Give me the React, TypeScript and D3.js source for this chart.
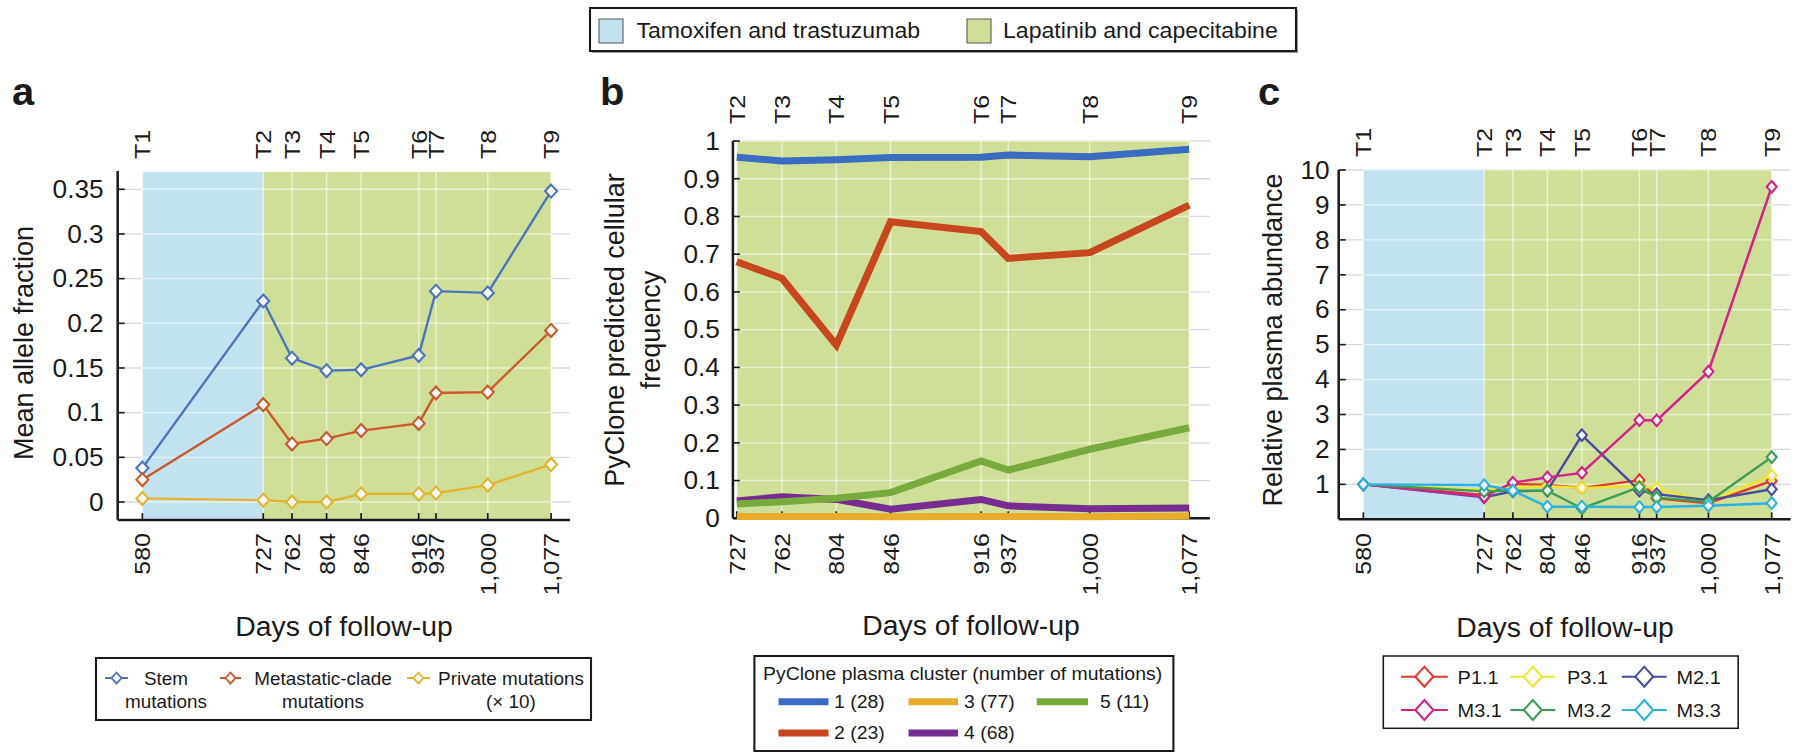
import React from "react";
import * as d3 from "d3";

// Drawing is laid out in page pixels vertically; horizontal positions are
// divided by SX because the figure is drawn slightly widened.
const SX = 1.05;
const WIDTH = 1793;
const HEIGHT = 753;
const VIEW_W = WIDTH / SX;
const h = (v: number) => v / SX;

const FONT = "'Liberation Sans', Arial, Helvetica, sans-serif";
const TICK_FS = 25;
const LABEL_FS = 27;
const INK = "#1a1a1a";
// rotated tick text is drawn a little narrower across its glyph height
const ROT_SQUEEZE = 0.86;

// ---- shared time axis ----
const timepoints = ["T1", "T2", "T3", "T4", "T5", "T6", "T7", "T8", "T9"];
const followUpDays = [580, 727, 762, 804, 846, 916, 937, 1000, 1077];

// ---- panel a: mean allele fraction ----
const stemMutations = [0.038, 0.225, 0.161, 0.147, 0.148, 0.164, 0.236, 0.234, 0.348];
const metastaticClade = [0.025, 0.109, 0.065, 0.071, 0.08, 0.088, 0.122, 0.123, 0.192];
const privateMutationsX10 = [0.004, 0.002, 0.0, 0.0, 0.009, 0.009, 0.01, 0.019, 0.042];
const alleleTicks = [0, 0.05, 0.1, 0.15, 0.2, 0.25, 0.3, 0.35];
const alleleTickLabels = ["0", "0.05", "0.1", "0.15", "0.2", "0.25", "0.3", "0.35"];

// ---- panel b: PyClone cellular frequency ----
const pycloneTimepoints = ["T2", "T3", "T4", "T5", "T6", "T7", "T8", "T9"];
const pycloneDays = [727, 762, 804, 846, 916, 937, 1000, 1077];
const cluster1 = [0.957, 0.947, 0.95, 0.956, 0.957, 0.963, 0.958, 0.978];
const cluster2 = [0.68, 0.636, 0.459, 0.786, 0.76, 0.689, 0.704, 0.83];
const cluster3 = [0.005, 0.005, 0.005, 0.004, 0.005, 0.005, 0.004, 0.006];
const cluster4 = [0.046, 0.057, 0.05, 0.024, 0.05, 0.033, 0.025, 0.027];
const cluster5 = [0.038, 0.044, 0.053, 0.068, 0.152, 0.128, 0.183, 0.24];
const clusterLabels = ["1 (28)", "2 (23)", "3 (77)", "4 (68)", "5 (11)"];
const cellularTicks = [0, 0.1, 0.2, 0.3, 0.4, 0.5, 0.6, 0.7, 0.8, 0.9, 1];
const cellularTickLabels = ["0", "0.1", "0.2", "0.3", "0.4", "0.5", "0.6", "0.7", "0.8", "0.9", "1"];

// ---- panel c: relative plasma abundance ----
const plasmaNames = ["P1.1", "P3.1", "M2.1", "M3.1", "M3.2", "M3.3"];
const plasmaP11 = [1, 0.7, 1.02, 0.98, 0.9, 1.12, 0.6, 0.46, 1.1];
const plasmaP31 = [1, 0.85, 0.9, 0.95, 0.9, 0.95, 0.88, 0.5, 1.25];
const plasmaM21 = [1, 0.63, 0.8, 0.82, 2.41, 0.82, 0.72, 0.55, 0.86];
const plasmaM31 = [1, 0.65, 1.05, 1.2, 1.33, 2.84, 2.83, 4.23, 9.52];
const plasmaM32 = [1, 0.8, 0.82, 0.82, 0.31, 0.92, 0.62, 0.5, 1.78];
const plasmaM33 = [1, 0.98, 0.82, 0.36, 0.36, 0.35, 0.35, 0.39, 0.46];
const abundanceTicks = [1, 2, 3, 4, 5, 6, 7, 8, 9, 10];

// ---- treatments ----
const treatments = ["Tamoxifen and trastuzumab", "Lapatinib and capecitabine"];
const treatmentSpans = [
  [580, 727],
  [727, 1077],
];

// ---- palette ----
const BG_BLUE = "#c3e2ef";
const BG_GREEN = "#d0df98";
const mutationColors = ["#4a74bb", "#cb582b", "#e2b42c"];
const clusterColors = ["#3a6cc1", "#c8461e", "#e8ac2c", "#762c91", "#79aa3e"];
const plasmaColors = ["#e6352b", "#eee52c", "#474c9c", "#d2228a", "#3b9e55", "#2bb2e4"];

const fmtDay = d3.format(",");

function diamond(cx: number, cy: number, w: number, hh: number) {
  return `M${cx},${cy - hh}L${cx + w},${cy}L${cx},${cy + hh}L${cx - w},${cy}Z`;
}

type Lin = d3.ScaleLinear<number, number>;

function Frame(props: {
  x: Lin;
  y: Lin;
  xTicks: number[];
  yTicks: number[];
  yLabels: string[];
  axisTop: number;
  axisBottom: number;
  bgTop: number;
  spans: { from: number; to: number; fill: string }[];
  gap: number;
  topLabels: string[];
  topBase: number;
}) {
  const { x, y, xTicks, yTicks, yLabels, axisTop, axisBottom, bgTop, spans, gap, topLabels, topBase } = props;
  const [left, right] = x.range();
  const bgLeft = d3.min(spans, (s) => x(s.from)) as number;
  const bgRight = d3.max(spans, (s) => x(s.to)) as number;
  const tick = 7;
  return (
    <g>
      {yTicks.map((t) => (
        <line key={"gg" + t} x1={left} x2={right} y1={y(t)} y2={y(t)} stroke="#d5d8df" strokeWidth={1.3} />
      ))}
      {spans.map((s, i) => (
        <rect key={"bg" + i} x={x(s.from)} width={x(s.to) - x(s.from)} y={bgTop} height={axisBottom - bgTop} fill={s.fill} />
      ))}
      {yTicks.map((t) => (
        <line key={"wg" + t} x1={bgLeft} x2={bgRight} y1={y(t)} y2={y(t)} stroke="#ffffff" strokeOpacity={0.55} strokeWidth={1.4} />
      ))}
      {xTicks.map((d) => (
        <line key={"vg" + d} x1={x(d)} x2={x(d)} y1={bgTop} y2={axisBottom} stroke="#ffffff" strokeOpacity={0.55} strokeWidth={1.4} />
      ))}
      <line x1={left} x2={left} y1={axisTop} y2={axisBottom} stroke={INK} strokeWidth={2.4} />
      <line x1={left} x2={right} y1={axisBottom} y2={axisBottom} stroke={INK} strokeWidth={2.4} />
      {yTicks.map((t) => (
        <line key={"yt" + t} x1={left} x2={left + h(tick)} y1={y(t)} y2={y(t)} stroke={INK} strokeWidth={1.6} />
      ))}
      {xTicks.map((d) => (
        <line key={"xt" + d} x1={x(d)} x2={x(d)} y1={axisBottom} y2={axisBottom - tick} stroke={INK} strokeWidth={1.6} />
      ))}
      {yTicks.map((t, i) => (
        <text
          key={"yl" + t}
          x={left - h(gap)}
          y={y(t)}
          textAnchor="end"
          dominantBaseline="central"
          fontSize={TICK_FS}
          fill={INK}
        >
          {yLabels[i]}
        </text>
      ))}
      {xTicks.map((d) => (
        <text
          key={"xl" + d}
          transform={`translate(${x(d)},533) rotate(-90) scale(1,${ROT_SQUEEZE})`}
          textAnchor="end"
          dominantBaseline="central"
          fontSize={TICK_FS}
          fill={INK}
        >
          {fmtDay(d)}
        </text>
      ))}
      {xTicks.map((d, i) => (
        <text
          key={"tl" + d}
          transform={`translate(${x(d)},${topBase}) rotate(-90) scale(1,${ROT_SQUEEZE})`}
          textAnchor="start"
          dominantBaseline="central"
          fontSize={TICK_FS}
          fill={INK}
        >
          {topLabels[i]}
        </text>
      ))}
    </g>
  );
}

function RotLabel({ cx, cy, text }: { cx: number; cy: number; text: string }) {
  return (
    <text
      transform={`translate(${h(cx)},${cy}) rotate(-90)`}
      textAnchor="middle"
      dominantBaseline="central"
      fontSize={LABEL_FS}
      fill={INK}
    >
      {text}
    </text>
  );
}

export default function App() {
  const xA = d3.scaleLinear().domain([550, 1100]).range([h(117.7), h(570)]);
  const yA = d3.scaleLinear().domain([0, 0.35]).range([502, 189.3]);
  const xB = d3.scaleLinear().domain([724, 1093]).range([h(732.9), h(1209.9)]);
  const yB = d3.scaleLinear().domain([0, 1]).range([518.3, 141]);
  const xC = d3.scaleLinear().domain([550, 1100]).range([h(1338.7), h(1790.6)]);
  const yC = d3.scaleLinear().domain([0, 10]).range([519.3, 170]);

  const spanFills = [BG_BLUE, BG_GREEN];
  const fullSpans = treatmentSpans.map(([from, to], i) => ({ from, to, fill: spanFills[i] }));
  const greenOnly = [fullSpans[1]];

  const lineA = (vals: number[]) =>
    d3.line<number>().x((_, i) => xA(followUpDays[i])).y((v) => yA(v))(vals) as string;
  const lineB = (vals: number[]) =>
    d3.line<number>().x((_, i) => xB(pycloneDays[i])).y((v) => yB(v))(vals) as string;
  const lineC = (vals: number[]) =>
    d3.line<number>().x((_, i) => xC(followUpDays[i])).y((v) => yC(v))(vals) as string;

  const mutationSeries = [stemMutations, metastaticClade, privateMutationsX10];
  const clusterSeries = [cluster1, cluster2, cluster3, cluster4, cluster5];
  const plasmaSeries = [plasmaP11, plasmaP31, plasmaM21, plasmaM31, plasmaM32, plasmaM33];

  return (
    <svg
      width={WIDTH}
      height={HEIGHT}
      viewBox={`0 0 ${VIEW_W} ${HEIGHT}`}
      preserveAspectRatio="none"
      style={{ position: "absolute", left: 0, top: 0, background: "#ffffff" }}
      fontFamily={FONT}
    >
      <rect x={0} y={0} width={VIEW_W} height={HEIGHT} fill="#ffffff" />

      {/* treatment legend */}
      <g>
        <rect x={h(592)} y={10} width={h(706)} height={43} fill="#9a9a9a" />
        <rect x={h(590)} y={8} width={h(706)} height={43} fill="#ffffff" stroke={INK} strokeWidth={2} />
        <rect x={h(599)} y={19} width={h(24)} height={24} fill={BG_BLUE} stroke="#555" strokeWidth={1} />
        <text x={h(636.5)} y={31} dominantBaseline="central" fontSize={22} fill={INK}>
          {treatments[0]}
        </text>
        <rect x={h(967)} y={19} width={h(24)} height={24} fill={BG_GREEN} stroke="#555" strokeWidth={1} />
        <text x={h(1003)} y={31} dominantBaseline="central" fontSize={22} fill={INK}>
          {treatments[1]}
        </text>
      </g>

      {/* panel letters */}
      <text x={h(12)} y={105} fontSize={38} fontWeight="bold" fill={INK}>a</text>
      <text x={h(600)} y={105} fontSize={38} fontWeight="bold" fill={INK}>b</text>
      <text x={h(1258)} y={105} fontSize={38} fontWeight="bold" fill={INK}>c</text>

      {/* ---------- panel a ---------- */}
      <Frame
        x={xA}
        y={yA}
        xTicks={followUpDays}
        yTicks={alleleTicks}
        yLabels={alleleTickLabels}
        axisTop={171}
        axisBottom={520}
        bgTop={172}
        spans={fullSpans}
        gap={14}
        topLabels={timepoints}
        topBase={159}
      />
      {mutationSeries.map((vals, s) => (
        <g key={"ma" + s}>
          <path d={lineA(vals)} fill="none" stroke={mutationColors[s]} strokeWidth={2.3} />
          {vals.map((v, i) => (
            <path
              key={i}
              d={diamond(xA(followUpDays[i]), yA(v), h(6), 6.5)}
              fill="#f7f7f7"
              stroke={mutationColors[s]}
              strokeWidth={2}
            />
          ))}
        </g>
      ))}
      <RotLabel cx={23} cy={343} text="Mean allele fraction" />
      <text x={h(344)} y={636} textAnchor="middle" fontSize={LABEL_FS} fill={INK}>
        Days of follow-up
      </text>
      <g>
        <rect x={h(96)} y={658} width={h(495)} height={62} fill="#ffffff" stroke={INK} strokeWidth={2} />
        {[
          { lx: [105, 128], cx: 166, t: ["Stem", "mutations"] },
          { lx: [220, 241], cx: 323, t: ["Metastatic-clade", "mutations"] },
          { lx: [407, 430], cx: 511, t: ["Private mutations", "(\u00d7 10)"] },
        ].map((e, s) => (
          <g key={"la" + s}>
            <line x1={h(e.lx[0])} x2={h(e.lx[1])} y1={678} y2={678} stroke={mutationColors[s]} strokeWidth={2} />
            <path
              d={diamond(h((e.lx[0] + e.lx[1]) / 2), 678, h(5), 5.5)}
              fill="#f7f7f7"
              stroke={mutationColors[s]}
              strokeWidth={1.8}
            />
            <text x={h(e.cx)} y={679} textAnchor="middle" dominantBaseline="central" fontSize={18} fill={INK}>
              {e.t[0]}
            </text>
            <text x={h(e.cx)} y={702} textAnchor="middle" dominantBaseline="central" fontSize={18} fill={INK}>
              {e.t[1]}
            </text>
          </g>
        ))}
      </g>

      {/* ---------- panel b ---------- */}
      <Frame
        x={xB}
        y={yB}
        xTicks={pycloneDays}
        yTicks={cellularTicks}
        yLabels={cellularTickLabels}
        axisTop={141}
        axisBottom={518.3}
        bgTop={141}
        spans={greenOnly}
        gap={13}
        topLabels={pycloneTimepoints}
        topBase={124}
      />
      {clusterSeries.map((vals, s) => (
        <path
          key={"cb" + s}
          d={lineB(vals)}
          fill="none"
          stroke={clusterColors[s]}
          strokeWidth={7}
          strokeLinejoin="miter"
        />
      ))}
      <RotLabel cx={614.7} cy={330} text="PyClone predicted cellular" />
      <RotLabel cx={650.5} cy={330} text="frequency" />
      <text x={h(971)} y={635} textAnchor="middle" fontSize={LABEL_FS} fill={INK}>
        Days of follow-up
      </text>
      <g>
        <rect x={h(754.4)} y={656} width={h(419)} height={95} fill="#ffffff" stroke={INK} strokeWidth={2} />
        <text x={h(763)} y={674} dominantBaseline="central" fontSize={18.5} fill={INK}>
          PyClone plasma cluster (number of mutations)
        </text>
        {clusterLabels.map((lab, s) => {
          const col = Math.floor(s / 2);
          const row = s % 2;
          const cols = [
            [778.5, 828.5, 834],
            [908.5, 958, 964],
            [1036.7, 1088, 1100],
          ];
          const cy = row === 0 ? 701.7 : 733;
          return (
            <g key={"lb" + s}>
              <line x1={h(cols[col][0])} x2={h(cols[col][1])} y1={cy} y2={cy} stroke={clusterColors[s]} strokeWidth={7} />
              <text x={h(cols[col][2])} y={cy} dominantBaseline="central" fontSize={18.5} fill={INK}>
                {lab}
              </text>
            </g>
          );
        })}
      </g>

      {/* ---------- panel c ---------- */}
      <Frame
        x={xC}
        y={yC}
        xTicks={followUpDays}
        yTicks={abundanceTicks}
        yLabels={abundanceTicks.map(String)}
        axisTop={170}
        axisBottom={519.3}
        bgTop={169}
        spans={fullSpans}
        gap={9}
        topLabels={timepoints}
        topBase={157}
      />
      {plasmaSeries.map((vals, s) => (
        <g key={"pc" + s}>
          <path d={lineC(vals)} fill="none" stroke={plasmaColors[s]} strokeWidth={2.4} />
          {vals.map((v, i) => (
            <path
              key={i}
              d={diamond(xC(followUpDays[i]), yC(v), h(5), 5.8)}
              fill="#f5f5f5"
              stroke={plasmaColors[s]}
              strokeWidth={2}
            />
          ))}
        </g>
      ))}
      <RotLabel cx={1272} cy={340} text="Relative plasma abundance" />
      <text x={h(1565)} y={637} textAnchor="middle" fontSize={LABEL_FS} fill={INK}>
        Days of follow-up
      </text>
      <g>
        <rect x={h(1383.3)} y={656} width={h(354.9)} height={72.3} fill="#ffffff" stroke={INK} strokeWidth={1.5} />
        {plasmaNames.map((name, s) => {
          const col = s % 3;
          const row = Math.floor(s / 3);
          const cols = [
            [1400.9, 1447.8, 1457.6],
            [1510.3, 1555.3, 1567],
            [1621.8, 1666.7, 1676.5],
          ];
          const cy = row === 0 ? 676.7 : 710;
          const mid = (cols[col][0] + cols[col][1]) / 2;
          return (
            <g key={"lc" + s}>
              <line x1={h(cols[col][0])} x2={h(cols[col][1])} y1={cy} y2={cy} stroke={plasmaColors[s]} strokeWidth={2} />
              <path d={diamond(h(mid), cy, h(9), 10)} fill="#ffffff" stroke={plasmaColors[s]} strokeWidth={2} />
              <text x={h(cols[col][2])} y={cy} dominantBaseline="central" fontSize={19} fill={INK}>
                {name}
              </text>
            </g>
          );
        })}
      </g>
    </svg>
  );
}
